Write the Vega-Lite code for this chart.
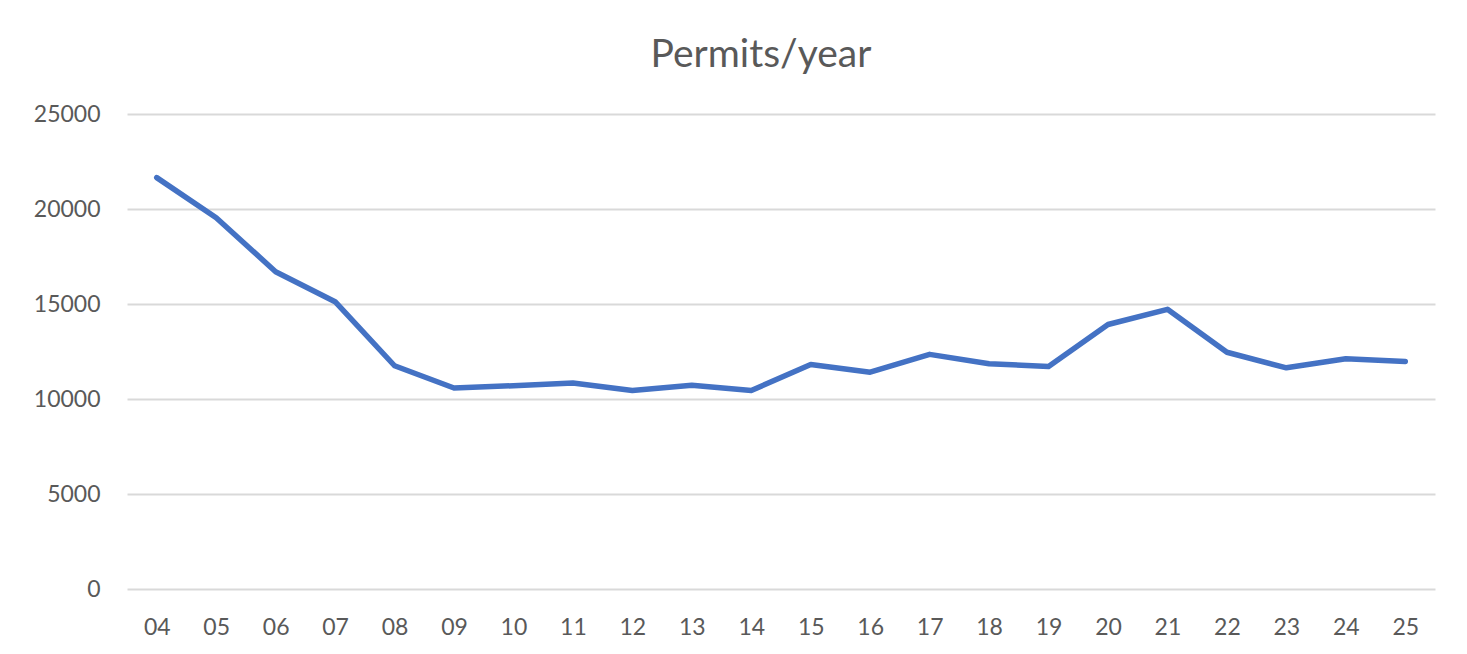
{
  "$schema": "https://vega.github.io/schema/vega-lite/v6.json",
  "autosize": {"type": "none"},
  "width": 1308,
  "height": 475,
  "padding": {"left": 127, "top": 114, "right": 32, "bottom": 65},
  "background": "#ffffff",
  "title": {
    "text": "Permits/year",
    "anchor": "middle",
    "frame": "group",
    "dx": -20,
    "offset": 28,
    "font": "Lato",
    "fontSize": 39,
    "fontWeight": "normal",
    "color": "#595959"
  },
  "data": {
    "values": [
      {"year": "04", "permits": 21650},
      {"year": "05", "permits": 19540},
      {"year": "06", "permits": 16700},
      {"year": "07", "permits": 15120},
      {"year": "08", "permits": 11750},
      {"year": "09", "permits": 10580},
      {"year": "10", "permits": 10700},
      {"year": "11", "permits": 10840},
      {"year": "12", "permits": 10450},
      {"year": "13", "permits": 10720},
      {"year": "14", "permits": 10450},
      {"year": "15", "permits": 11820},
      {"year": "16", "permits": 11410},
      {"year": "17", "permits": 12350},
      {"year": "18", "permits": 11860},
      {"year": "19", "permits": 11710},
      {"year": "20", "permits": 13920},
      {"year": "21", "permits": 14720},
      {"year": "22", "permits": 12460},
      {"year": "23", "permits": 11640},
      {"year": "24", "permits": 12120},
      {"year": "25", "permits": 11980}
    ]
  },
  "mark": {"type": "line", "color": "#4472C4", "strokeWidth": 5.5, "strokeCap": "round", "strokeJoin": "round"},
  "encoding": {
    "x": {
      "field": "year",
      "type": "ordinal",
      "sort": null,
      "scale": {"type": "point", "padding": 0.5},
      "axis": {
        "title": null,
        "labelAngle": 0,
        "domain": false,
        "ticks": false,
        "grid": false,
        "labelPadding": 27,
        "labelFont": "Lato",
        "labelFontSize": 23,
        "labelColor": "#595959"
      }
    },
    "y": {
      "field": "permits",
      "type": "quantitative",
      "scale": {"domain": [0, 25000], "nice": false},
      "axis": {
        "title": null,
        "values": [0, 5000, 10000, 15000, 20000, 25000],
        "format": "d",
        "domain": false,
        "ticks": false,
        "grid": true,
        "gridColor": "#d9d9d9",
        "gridWidth": 2,
        "labelPadding": 27,
        "labelFont": "Lato",
        "labelFontSize": 23,
        "labelColor": "#595959"
      }
    }
  },
  "config": {"view": {"stroke": null}}
}
